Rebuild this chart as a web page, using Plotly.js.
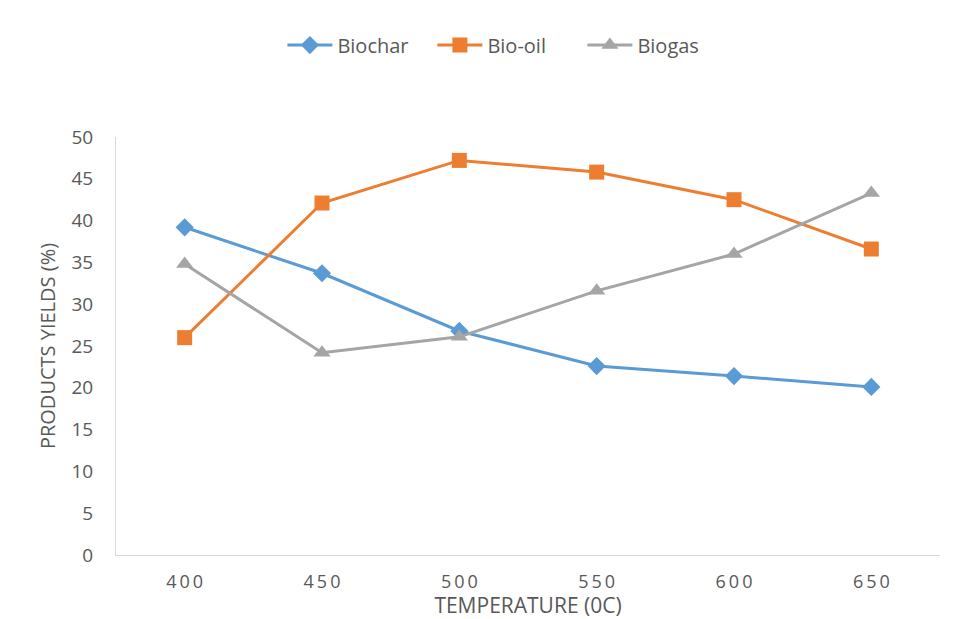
<!DOCTYPE html>
<html><head><meta charset="utf-8">
<script src="https://cdn.plot.ly/plotly-3.0.1.min.js"></script>
<style>html,body{margin:0;padding:0;background:#fff;}#c{width:956px;height:619px;}</style>
</head><body><div id="c"></div>
<script>
var temperatures = ['400','450','500','550','600','650'];
var biochar = [39.2, 33.7, 26.8, 22.6, 21.4, 20.1];
var bioOil = [26.0, 42.1, 47.2, 45.8, 42.5, 36.6];
var biogas = [34.8, 24.2, 26.1, 31.6, 36.0, 43.3];
var yTicks = [0,5,10,15,20,25,30,35,40,45,50];

function tr(name, y, color, symbol, size) {
  return {x: temperatures, y: y, name: name, type: 'scatter', mode: 'lines+markers',
    line: {color: color, width: 3}, marker: {symbol: symbol, size: size, color: color}};
}
var data = [
  tr('Biochar', biochar, '#5B9BD5', 'diamond', 14),
  tr('Bio-oil', bioOil, '#ED7D31', 'square', 15),
  tr('Biogas', biogas, '#A5A5A5', 'triangle-up', 15)
];
var spaced = temperatures.map(function(t){ return t.split('').join('\u2009'); });
var layout = {
  width: 956, height: 619,
  margin: {l: 116, r: 16, t: 137, b: 64, autoexpand: false},
  paper_bgcolor: '#fff', plot_bgcolor: '#fff',
  font: {family: 'Open Sans, Liberation Sans, sans-serif', color: '#595959', size: 19},
  showlegend: true,
  legend: {orientation: 'h', x: 0.475, xanchor: 'center', y: 1.22, yanchor: 'middle',
    font: {size: 20, color: '#595959'}, entrywidth: 90, entrywidthmode: 'pixels', itemwidth: 45},
  xaxis: {type: 'category', range: [-0.5, 5.5], showgrid: false, showline: true,
    linecolor: '#D9D9D9', linewidth: 1, ticks: '', zeroline: false,
    tickvals: temperatures, ticktext: spaced, ticklabelstandoff: 10,
    tickfont: {size: 18, color: '#595959'},
    title: {text: 'TEMPERATURE (0C)', font: {size: 21, color: '#595959'}, standoff: 1}},
  yaxis: {range: [0, 50], tickvals: yTicks, showgrid: false, showline: true,
    linecolor: '#D9D9D9', linewidth: 1, ticks: '', zeroline: false,
    ticklabelstandoff: 18,
    tickfont: {size: 19, color: '#595959'},
    title: {text: 'PRODUCTS YIELDS (%)', font: {size: 20, color: '#595959'}, standoff: 10}}
};
Plotly.newPlot('c', data, layout, {displayModeBar: false});
</script></body></html>
